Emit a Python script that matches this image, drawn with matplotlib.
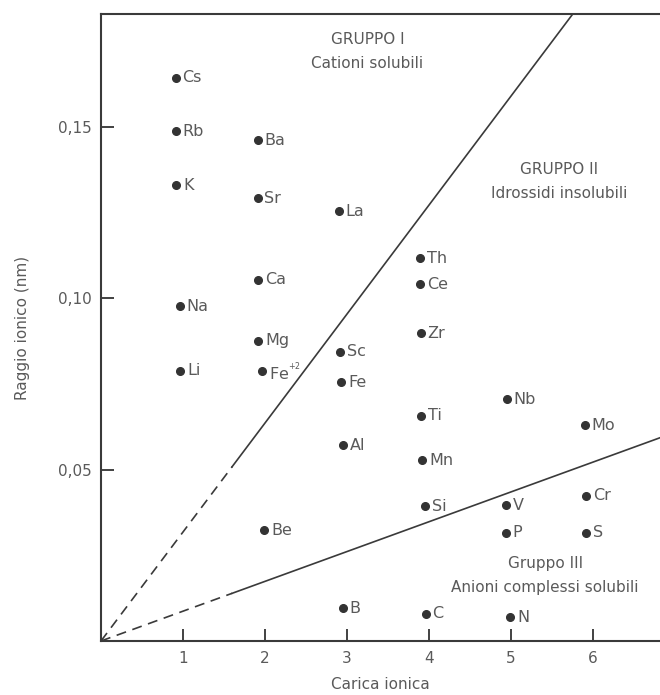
import matplotlib.pyplot as plt

# punti: carica ionica (x), raggio ionico in nm (y)
elementi = ['Cs', 'Rb', 'K', 'Na', 'Li',
            'Ba', 'Sr', 'Ca', 'Mg', r'Fe$^{^{+2}}$', 'Be',
            'La', 'Sc', 'Fe', 'Al', 'B',
            'Th', 'Ce', 'Zr', 'Ti', 'Mn', 'Si', 'C',
            'Nb', 'V', 'P', 'N',
            'Mo', 'Cr', 'S']
carica = [0.91, 0.91, 0.92, 0.96, 0.97,
          1.91, 1.91, 1.92, 1.92, 1.96, 1.99,
          2.90, 2.92, 2.93, 2.95, 2.95,
          3.89, 3.89, 3.90, 3.90, 3.92, 3.95, 3.96,
          4.95, 4.94, 4.94, 4.99,
          5.90, 5.92, 5.92]
raggio = [0.1644, 0.1488, 0.1331, 0.0977, 0.0789,
          0.1462, 0.1292, 0.1055, 0.0876, 0.0787, 0.0323,
          0.1255, 0.0844, 0.0755, 0.0571, 0.0095,
          0.1118, 0.1042, 0.0898, 0.0657, 0.0528, 0.0394, 0.0079,
          0.0705, 0.0397, 0.0316, 0.0069,
          0.0630, 0.0424, 0.0316]

# rette di separazione tra i gruppi (passano per l'origine)
pendenze = [0.0318, 0.0087]
x_tratteggio = 1.6   # fin qui la retta e' tratteggiata
x_max = 6.82
y_max = 0.183

xticks = [1, 2, 3, 4, 5, 6]
yticks = [0.05, 0.10, 0.15]
yticklabels = ['0,05', '0,10', '0,15']

gruppi = [('GRUPPO I', 'Cationi solubili', 3.25, 0.1755),
          ('GRUPPO II', 'Idrossidi insolubili', 5.59, 0.1375),
          ('Gruppo III', 'Anioni complessi solubili', 5.42, 0.0225)]

grigio = '#5a5a5a'
scuro = '#333333'

fig = plt.figure(figsize=(6.6, 6.95), dpi=100)
ax = fig.add_axes([0.153, 0.0777, 0.847, 0.902])

for m in pendenze:
    xe = min(x_max, y_max / m)
    ax.plot([0, x_tratteggio], [0, m * x_tratteggio], color='#3a3a3a', lw=1.2,
            ls=(0, (6, 4)))
    ax.plot([x_tratteggio, xe], [m * x_tratteggio, m * xe], color='#3a3a3a', lw=1.2)

ax.plot(carica, raggio, 'o', color=scuro, ms=5.5, ls='none')
for el, x, y in zip(elementi, carica, raggio):
    ax.annotate(el, (x, y), xytext=(5, 0), textcoords='offset points',
                ha='left', va='center', fontsize=11.5, color=grigio)

for titolo, sotto, x, y in gruppi:
    ax.text(x, y, titolo, ha='center', va='center', fontsize=11, color=grigio)
    ax.text(x, y - 0.0068, sotto, ha='center', va='center', fontsize=11, color=grigio)

ax.set_xlim(0, x_max)
ax.set_ylim(0, y_max)
ax.set_xticks(xticks)
ax.set_yticks(yticks)
ax.set_yticklabels(yticklabels)
ax.tick_params(direction='in', length=9, width=1.3, colors=scuro,
               labelcolor=grigio, labelsize=11, pad=7)
for s in ['left', 'bottom', 'top']:
    ax.spines[s].set_color('#3a3a3a')
    ax.spines[s].set_linewidth(1.5)
ax.spines['right'].set_visible(False)

ax.set_xlabel('Carica ionica', fontsize=11, color=grigio, labelpad=8)
ax.set_ylabel('Raggio ionico (nm)', fontsize=11, color=grigio, labelpad=20)

plt.savefig('out.png', dpi=100)
